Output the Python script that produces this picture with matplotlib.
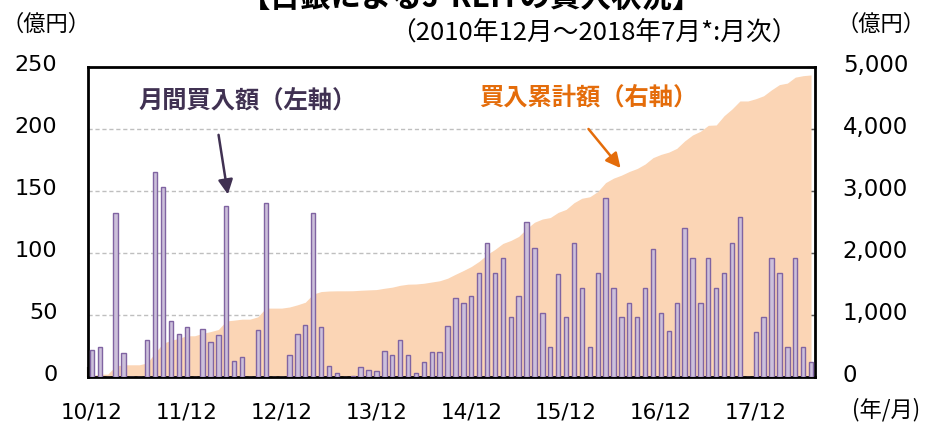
import matplotlib
matplotlib.use('Agg')
import matplotlib.pyplot as plt
import matplotlib.transforms as mtransforms
import numpy as np

# monthly purchases (100 million yen), 2010/12 .. 2018/7
monthly = [22, 24, 0, 132, 19, 0, 0, 30, 165, 153, 45, 35,
           40, 0, 39, 28, 34, 138, 13, 16, 0, 38, 140, 0,
           0, 18, 35, 42, 132, 40, 9, 3, 0, 1, 8, 6,
           5, 21, 18, 30, 18, 3, 12, 20, 20, 41, 64, 60,
           65, 84, 108, 84, 96, 48, 65, 125, 104, 52, 24, 83,
           48, 108, 72, 24, 84, 144, 72, 48, 60, 48, 72, 103,
           52, 37, 60, 120, 96, 60, 96, 72, 84, 108, 129, 0,
           36, 48, 96, 84, 24, 96, 24, 12]

# cumulative purchases (right axis)
cumulative = [22, 46, 46, 178, 197, 197, 197, 227, 392, 545, 590, 625,
              665, 665, 704, 732, 766, 904, 917, 933, 933, 971, 1111, 1111,
              1111, 1129, 1164, 1206, 1338, 1378, 1387, 1390, 1390, 1391, 1399, 1405,
              1410, 1431, 1449, 1479, 1497, 1500, 1512, 1532, 1552, 1593, 1657, 1717,
              1782, 1866, 1974, 2058, 2154, 2202, 2267, 2392, 2496, 2548, 2572, 2655,
              2703, 2811, 2883, 2907, 2991, 3135, 3207, 3255, 3315, 3363, 3435, 3538,
              3590, 3627, 3687, 3807, 3903, 3963, 4059, 4065, 4215, 4323, 4452, 4452,
              4488, 4536, 4632, 4716, 4740, 4836, 4860, 4872]

year_labels = ['10/12', '11/12', '12/12', '13/12', '14/12', '15/12', '16/12', '17/12']

JP = ['Noto Sans CJK JP', 'DejaVu Sans']
plt.rcParams['font.family'] = ['DejaVu Sans', 'Noto Sans CJK JP']

x = np.arange(len(monthly))
year_pos = np.arange(len(year_labels)) * 12

fig = plt.figure(figsize=(9.26, 4.26), dpi=100)
ax = fig.add_axes([88 / 926, 49 / 426, 727 / 926, 310 / 426])
ax2 = ax.twinx()

# cumulative area on right scale
ax.fill_between(x, cumulative, color='#fbd5b5', lw=0, zorder=1)
ax.set_ylim(0, 5000)
ax.set_xlim(-0.5, len(monthly) - 0.5)
ax.yaxis.tick_right()
ax.yaxis.set_label_position('right')
ax.set_yticks([0, 1000, 2000, 3000, 4000, 5000])
ax.set_yticklabels(['0', '1,000', '2,000', '3,000', '4,000', '5,000'])
ax.set_axisbelow(True)
ax.yaxis.grid(True, linestyle=(0, (3, 2)), color='#bfbfbf', lw=1)
ax.tick_params(axis='y', direction='in', length=6, width=1, color='#595959',
               labelsize=16.5, pad=20)

ax.set_xticks(year_pos - 0.5)
ax.set_xticklabels([])
ax.set_xticks(year_pos, minor=True)
ax.set_xticklabels(year_labels, minor=True)
ax.tick_params(axis='x', which='major', direction='in', length=7, width=1.5,
               color='#4d3b2a')
ax.tick_params(axis='x', which='minor', length=0, labelsize=15.5, pad=18)

for s in ax.spines.values():
    s.set_linewidth(2)

# monthly bars on left scale
ax2.bar(x, monthly, width=0.55, color='#ccc0da', edgecolor='#8064a2', lw=1, zorder=3)
ax2.set_ylim(0, 250)
ax2.yaxis.tick_left()
ax2.yaxis.set_label_position('left')
ax2.set_yticks([0, 50, 100, 150, 200, 250])
ax2.tick_params(axis='y', direction='in', length=0, labelsize=16, pad=22)
for s in ax2.spines.values():
    s.set_visible(False)

# y tick labels sit a little above their gridlines in the original
shift = mtransforms.ScaledTranslation(0, 4 / 100, fig.dpi_scale_trans)
for lab in ax.get_yticklabels() + ax2.get_yticklabels():
    lab.set_transform(lab.get_transform() + shift)

# annotations
ax2.text(0.22, 0.887, '月間買入額（左軸）', transform=ax2.transAxes, ha='center',
         va='center', fontsize=17.5, fontweight='bold', color='#403152', family=JP)
ax2.annotate('', xy=(0.193, 0.58), xytext=(0.179, 0.79), xycoords='axes fraction',
             arrowprops=dict(arrowstyle='-|>', color='#403152', lw=1.8,
                             mutation_scale=22))
ax2.text(0.688, 0.903, '買入累計額（右軸）', transform=ax2.transAxes, ha='center',
         va='center', fontsize=17.5, fontweight='bold', color='#e46c0a', family=JP)
ax2.annotate('', xy=(0.735, 0.667), xytext=(0.686, 0.807), xycoords='axes fraction',
             arrowprops=dict(arrowstyle='-|>', color='#e46c0a', lw=1.8,
                             mutation_scale=22))

# titles and unit labels
fig.text(472 / 926, 0.984, '【日銀によるJ-REITの買入状況】', ha='center', va='baseline',
         fontsize=22, fontweight='bold', family=JP)
fig.text(594 / 926, 1 - 33 / 426, '（2010年12月～2018年7月*:月次）', ha='center',
         va='center', fontsize=18.5, family=JP)
fig.text(46 / 926, 1 - 24 / 426, '（億円）', ha='center', va='center', fontsize=16, family=JP)
fig.text(881 / 926, 1 - 24 / 426, '（億円）', ha='center', va='center', fontsize=16, family=JP)
fig.text(886 / 926, 1 - 410 / 426, '(年/月)', ha='center', va='center', fontsize=16, family=JP)

fig.savefig('out.png', dpi=100)
